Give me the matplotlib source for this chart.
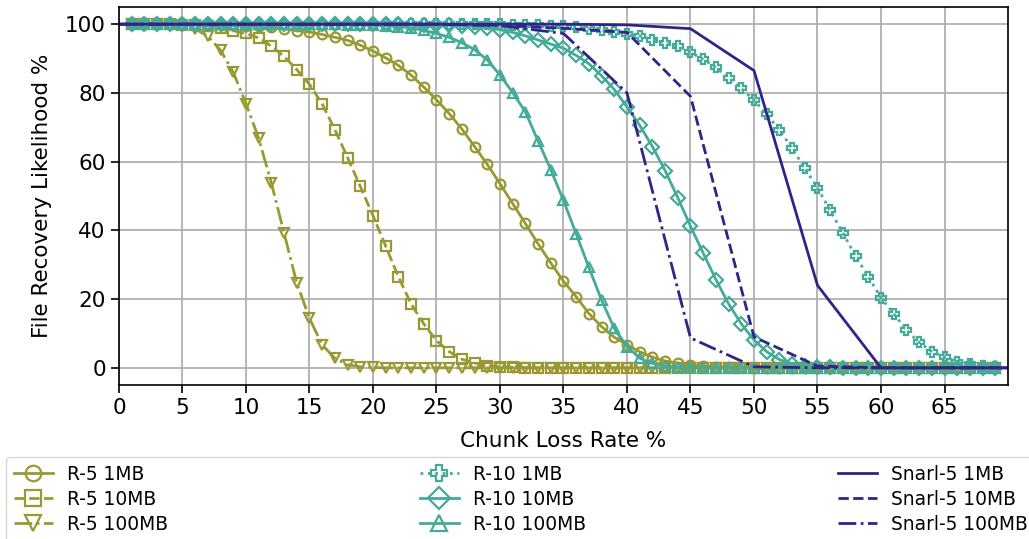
#!/usr/bin/env python3
"""
File recovery likelihood vs. chunk loss rate for R-5, R-10 and Snarl-5.
"""

import matplotlib
matplotlib.use('Agg')
import matplotlib.pyplot as plt

# chunk loss rate (%) for the replicated schemes
loss_r = list(range(1, 70))
# chunk loss rate (%) for Snarl (sampled every 5 %)
loss_snarl = list(range(0, 75, 5))

r5_1mb = [100, 100, 100, 100, 100, 99.9, 99.9, 99.8, 99.7,
          99.6, 99.4, 99.1, 98.7, 98.1, 97.7, 97.0, 96.2, 95.3, 93.9,
          92.2, 90.2, 88.0, 85.2, 81.7, 78.0, 74.0, 69.5, 64.4, 59.2,
          53.6, 47.8, 42.0, 36.1, 30.5, 25.2, 20.7, 15.8, 12.0, 8.9,
          6.7, 4.7, 3.1, 2.0, 1.3, 0.8, 0.5, 0.3, 0.2, 0.1] + [0] * 20

r5_10mb = [100, 100, 100, 100, 99.9, 99.8, 99.5, 99.0, 98.1,
           97.3, 96.0, 93.6, 90.6, 86.8, 82.5, 76.8, 69.3, 61.2, 52.8,
           44.3, 35.4, 26.5, 18.6, 12.8, 7.9, 4.7, 2.5, 1.4, 0.6,
           0.3, 0.1] + [0] * 38

r5_100mb = [100, 100, 100, 99.9, 99.6, 98.6, 96.5, 92.4, 86.0,
            76.9, 66.8, 53.8, 39.2, 24.7, 14.4, 6.7, 2.8, 0.9, 0.3,
            0.1] + [0] * 49

r10_1mb = [100] * 30 + [99.9, 99.8, 99.7, 99.6, 99.4, 99.1, 98.7, 98.2, 97.8,
                        97.2, 96.6, 95.5, 94.6, 93.6, 91.8, 89.8, 87.4, 84.4, 81.3,
                        77.9, 73.8, 69.2, 63.9, 58.1, 52.3, 45.8, 39.2, 32.5, 26.5,
                        20.4, 15.7, 11.0, 7.4, 4.7, 3.1, 1.8, 1.0, 0.5, 0.3]

r10_10mb = [100] * 22 + [99.9, 99.9, 99.8, 99.7, 99.5, 99.3, 98.9,
                         98.4, 97.6, 96.6, 95.4, 94.2, 93.0, 90.9, 88.5, 85.0, 81.0,
                         75.9, 70.6, 64.4, 57.4, 49.5, 41.2, 33.4, 25.7, 18.6, 12.8,
                         8.1, 4.7, 2.4, 1.2, 0.5, 0.2, 0.1] + [0] * 13

r10_100mb = [100] * 17 + [99.9, 99.9,
                          99.8, 99.6, 99.3, 98.9, 98.2, 97.3, 96.2, 94.6, 92.6, 89.6,
                          85.2, 80.1, 74.5, 66.0, 57.7, 48.7, 39.0, 29.2, 19.7, 11.5,
                          6.2, 2.8, 1.3, 0.5, 0.2, 0.1] + [0] * 24

snarl_1mb = [100, 100, 100, 100, 100, 100, 100, 100, 99.8, 98.7, 86.5, 24.0, 0, 0, 0]
snarl_10mb = [100, 100, 100, 100, 100, 100, 99.7, 98.8, 97.6, 79.0, 9.0, 0.5, 0, 0, 0]
snarl_100mb = [100, 100, 100, 100, 100, 100, 99.6, 97.3, 80.0, 8.7, 0.3, 0, 0, 0, 0]

olive = '#999933'
teal = '#44AA99'
indigo = '#332288'

fig = plt.figure(figsize=(10.29, 5.39), dpi=100)
ax = fig.add_axes([0.1156, 0.2857, 0.864, 0.7013])

mk = dict(markersize=7, markeredgewidth=1.6, fillstyle='none', linewidth=2)

ax.plot(loss_r, r5_1mb, color=olive, linestyle='-', marker='o', label='R-5 1MB', **mk)
ax.plot(loss_r, r5_10mb, color=olive, linestyle='--', marker='s', label='R-5 10MB', **mk)
ax.plot(loss_r, r5_100mb, color=olive, linestyle='-.', marker='v', label='R-5 100MB', **mk)
ax.plot(loss_r, r10_1mb, color=teal, linestyle=':', marker='P', label='R-10 1MB', **mk)
ax.plot(loss_r, r10_10mb, color=teal, linestyle='-', marker='D', label='R-10 10MB', **mk)
ax.plot(loss_r, r10_100mb, color=teal, linestyle='-', marker='^', label='R-10 100MB', **mk)
ax.plot(loss_snarl, snarl_1mb, color=indigo, linestyle='-', linewidth=2, label='Snarl-5 1MB')
ax.plot(loss_snarl, snarl_10mb, color=indigo, linestyle='--', linewidth=2, label='Snarl-5 10MB')
ax.plot(loss_snarl, snarl_100mb, color=indigo, linestyle='-.', linewidth=2, label='Snarl-5 100MB')

ax.set_xlim(0, 70)
ax.set_ylim(-5, 105)
ax.set_xticks(range(0, 70, 5))
ax.set_yticks(range(0, 101, 20))
ax.tick_params(labelsize=15.5, length=6, width=1.2)
for s in ax.spines.values():
    s.set_linewidth(1.2)
ax.grid(True, color='#b0b0b0', linewidth=1.3)
ax.set_axisbelow(True)

ax.set_xlabel('Chunk Loss Rate %', fontsize=15.5, labelpad=9)
ax.set_ylabel('File Recovery Likelihood %', fontsize=15.5, labelpad=9)

ax.legend(loc='upper left', bbox_to_anchor=(0.006, 0.0, 1.0, 0.152),
          bbox_transform=fig.transFigure, mode='expand', ncol=3,
          fontsize=13.4, markerscale=1.6, handlelength=2.1,
          handletextpad=0.75, labelspacing=0.33, borderaxespad=0)

fig.savefig('out.png', dpi=100)
